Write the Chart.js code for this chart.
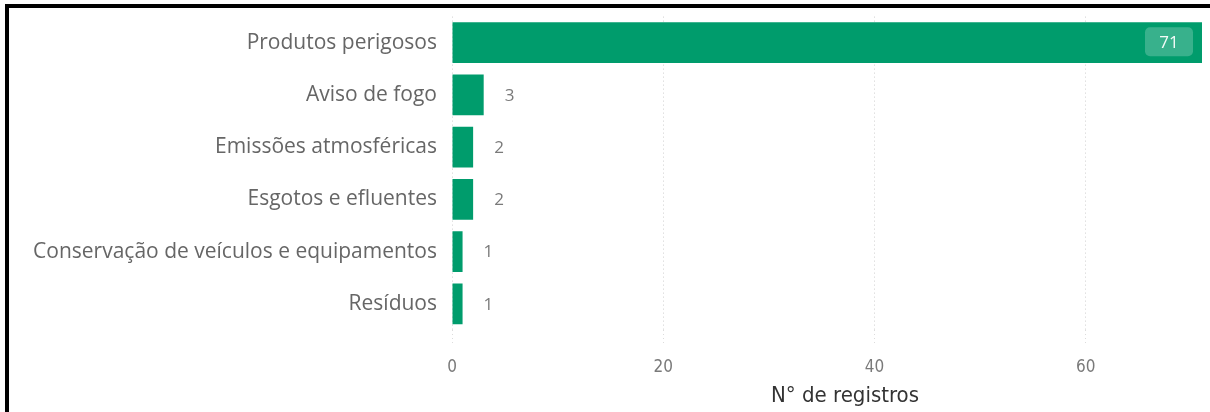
<!DOCTYPE html>
<html>
<head>
<meta charset="utf-8">
<script src="https://cdn.jsdelivr.net/npm/chart.js@4"></script>
<style>
    html, body { margin: 0; padding: 0; background: #fff; }
    #wrap { position: relative; width: 1210px; height: 412px; overflow: hidden; }
    #frame { position: absolute; left: 5px; top: 4px; right: -10px; bottom: -10px; border-left: 4px solid #000; border-top: 4px solid #000; pointer-events: none; }
    canvas { position: absolute; left: 0; top: -3px; }
</style>
</head>
<body>
<div id="wrap">
    <canvas id="chart" width="1210" height="415"></canvas>
    <div id="frame"></div>
</div>
<script>
// 카테고리별 등록 건수
const categories = [
    'Produtos perigosos',
    'Aviso de fogo',
    'Emissões atmosféricas',
    'Esgotos e efluentes',
    'Conservação de veículos e equipamentos',
    'Resíduos'
];
const counts = [71, 3, 2, 2, 1, 1];
const xTicks = [0, 20, 40, 60];
const xTitle = 'N° de registros';

const BAR_COLOR = '#009C6C';
const COND_FONT = '"DejaVu Sans Condensed", "DejaVu Sans", sans-serif';
const LABEL_FONT = '"Open Sans", "Noto Sans", sans-serif';

// 막대 끝에 값 표시 (공간이 없으면 막대 안쪽)
const valueLabels = {
    id: 'valueLabels',
    afterDatasetsDraw(chart) {
        const { ctx, chartArea } = chart;
        const meta = chart.getDatasetMeta(0);
        ctx.save();
        ctx.font = '17px ' + LABEL_FONT;
        ctx.textBaseline = 'middle';
        meta.data.forEach((bar, i) => {
            const text = String(counts[i]);
            const w = ctx.measureText(text).width;
            if (bar.x + 20 + w + 10 > chartArea.right) {
                const boxW = 48, boxH = 29;
                const bx = bar.x - 9 - boxW, by = bar.y - boxH / 2 - 1;
                ctx.fillStyle = 'rgba(255,255,255,0.22)';
                ctx.beginPath();
                ctx.roundRect(bx, by, boxW, boxH, 5);
                ctx.fill();
                ctx.fillStyle = '#f4fbf8';
                ctx.textAlign = 'center';
                ctx.fillText(text, bx + boxW / 2, bar.y);
            } else {
                ctx.fillStyle = '#7a7a7a';
                ctx.textAlign = 'left';
                ctx.fillText(text, bar.x + 21, bar.y + 1);
            }
        });
        ctx.restore();
    }
};

// x축 제목 (축 아래, 약간 오른쪽)
const axisTitle = {
    id: 'axisTitle',
    afterDraw(chart) {
        const { ctx } = chart;
        ctx.save();
        ctx.font = '22px ' + COND_FONT;
        ctx.fillStyle = '#333';
        ctx.textAlign = 'center';
        ctx.textBaseline = 'middle';
        ctx.fillText(xTitle, 845, 399);
        ctx.restore();
    }
};

new Chart(document.getElementById('chart'), {
    type: 'bar',
    data: {
        labels: categories,
        datasets: [{
            data: counts,
            backgroundColor: BAR_COLOR,
            categoryPercentage: 0.78,
            barPercentage: 1
        }]
    },
    options: {
        indexAxis: 'y',
        responsive: false,
        animation: false,
        layout: { padding: { top: 4, right: 8, left: 0, bottom: 0 } },
        plugins: { legend: { display: false }, tooltip: { enabled: false } },
        scales: {
            x: {
                min: 0,
                max: 71,
                afterBuildTicks: s => { s.ticks = xTicks.map(v => ({ value: v })); },
                afterFit: s => { s.height = 82; },
                border: { display: false, dash: [1, 3] },
                grid: { color: '#cfcfcf', lineWidth: 1, tickLength: 14, tickBorderDash: [1, 3], tickColor: '#dcdcdc' },
                ticks: {
                    color: '#7a7a7a',
                    padding: 13,
                    font: { family: COND_FONT, size: 17 }
                }
            },
            y: {
                afterFit: s => { s.width = 452; },
                border: { display: false },
                grid: { display: false },
                ticks: {
                    color: '#666',
                    padding: 7,
                    font: { family: LABEL_FONT, size: 21 }
                }
            }
        }
    },
    plugins: [valueLabels, axisTitle]
});
</script>
</body>
</html>
